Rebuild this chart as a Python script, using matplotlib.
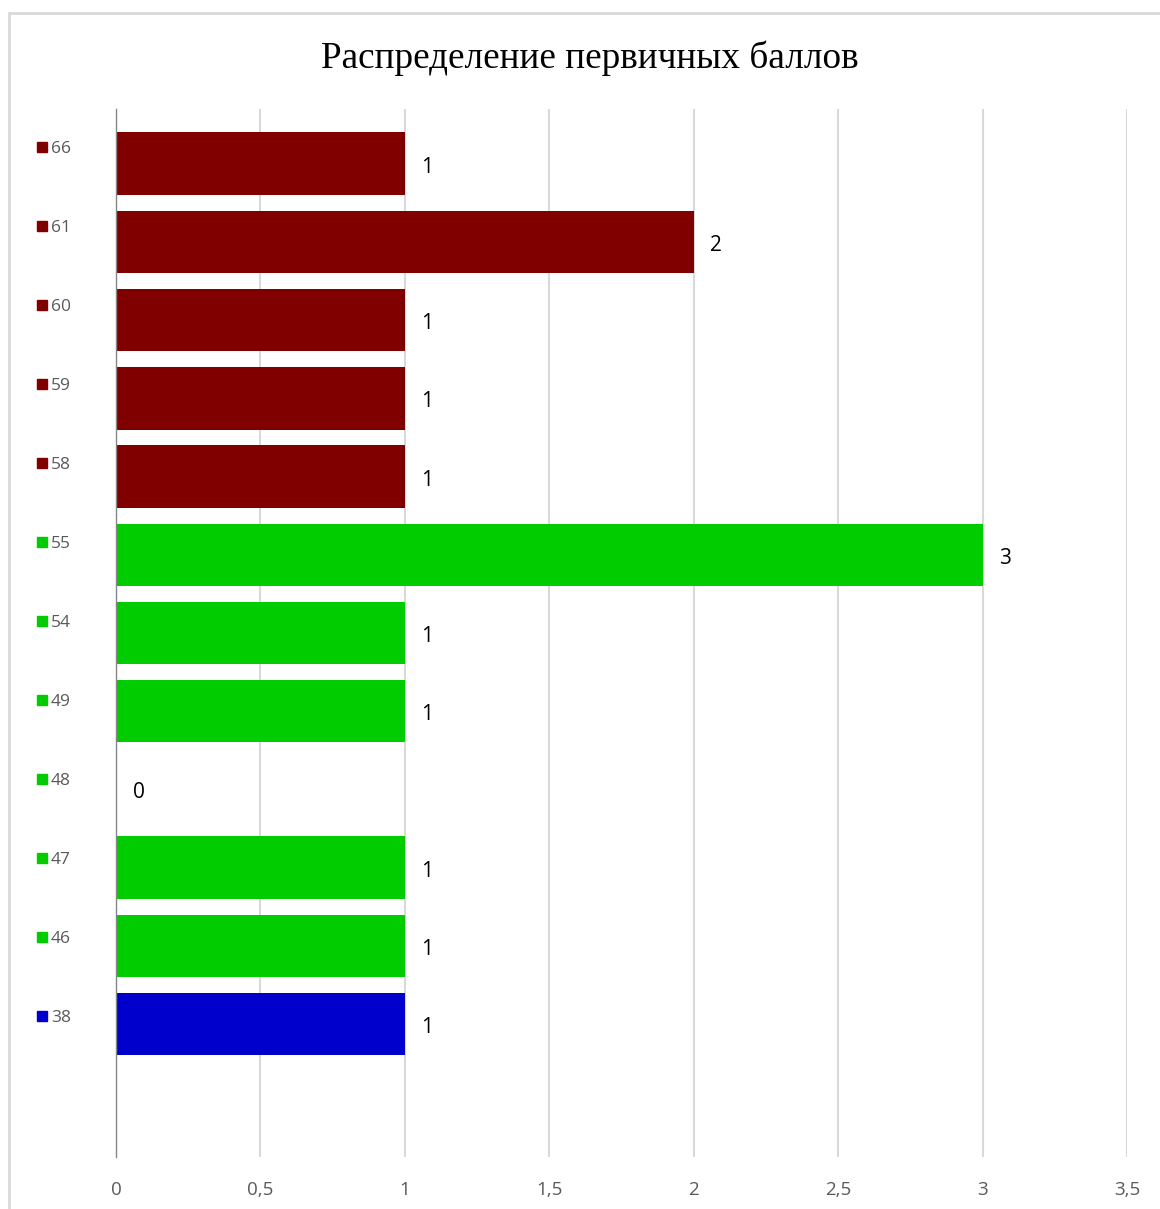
import matplotlib
matplotlib.use("Agg")
import matplotlib.pyplot as plt
from matplotlib.patches import Rectangle
from matplotlib.ticker import FuncFormatter

# primary scores and how many students got each one
scores = [38, 46, 47, 48, 49, 54, 55, 58, 59, 60, 61, 66]
counts = [1, 1, 1, 0, 1, 1, 3, 1, 1, 1, 2, 1]
groups = ["low", "mid", "mid", "mid", "mid", "mid", "mid",
          "high", "high", "high", "high", "high"]
group_colors = {"low": "#0000CC", "mid": "#00CC00", "high": "#800000"}
xticks = [0, 0.5, 1, 1.5, 2, 2.5, 3, 3.5]

W, H = 1160, 1209
fig = plt.figure(figsize=(W / 100, H / 100), dpi=100)

# light frame around the chart area (cut off at the right and bottom)
fig.patches.append(Rectangle((9 / W, -0.01), 1.05, 1 - 13 / H + 0.01,
                             transform=fig.transFigure, fill=False,
                             edgecolor="#d9d9d9", lw=2))

ax = fig.add_axes([116 / W, 1 - 1157 / H, (1127 - 116) / W, (1157 - 109) / H])
ypos = list(range(len(scores)))
cols = [group_colors[g] for g in groups]
ax.barh(ypos, counts, height=0.8, color=cols, zorder=3)

for y, c in zip(ypos, counts):
    ax.annotate(str(c), (c, y), xytext=(12, -2.5), textcoords="offset points",
                ha="left", va="center", fontsize=15, color="black",
                family="Open Sans", zorder=4)

ax.set_xlim(0, 3.5)
ax.set_ylim(-1.7, 11.7)
ax.set_xticks(xticks)
ax.xaxis.set_major_formatter(FuncFormatter(lambda v, p: f"{v:g}".replace(".", ",")))
ax.tick_params(axis="x", length=0, pad=17, labelsize=13.5, labelcolor="#595959")
for lbl in ax.get_xticklabels():
    lbl.set_family("Open Sans")
ax.set_yticks([])
ax.grid(axis="x", color="#d9d9d9", lw=1.5, zorder=0)
for s in ["top", "right", "bottom"]:
    ax.spines[s].set_visible(False)
ax.spines["left"].set_color("#868686")
ax.spines["left"].set_linewidth(1)
ax.spines["left"].set_zorder(5)

# legend-style list on the left: one colour square per score, top to bottom
for i, (s, c) in enumerate(zip(scores[::-1], cols[::-1])):
    yf = 1 - (147 + i * 79) / H
    fig.patches.append(Rectangle((37 / W, yf - 5 / H), 10 / W, 10 / H,
                                 transform=fig.transFigure, color=c))
    fig.text(51 / W, yf - 2 / H, str(s), ha="left", va="center",
             fontsize=12.5, color="#595959", family="Open Sans")

fig.text(0.5 + 10 / W, 1 - 58 / H, "Распределение первичных баллов",
         ha="center", va="center", fontsize=26.8, family="Liberation Serif")

fig.savefig("out.png", dpi=100)
